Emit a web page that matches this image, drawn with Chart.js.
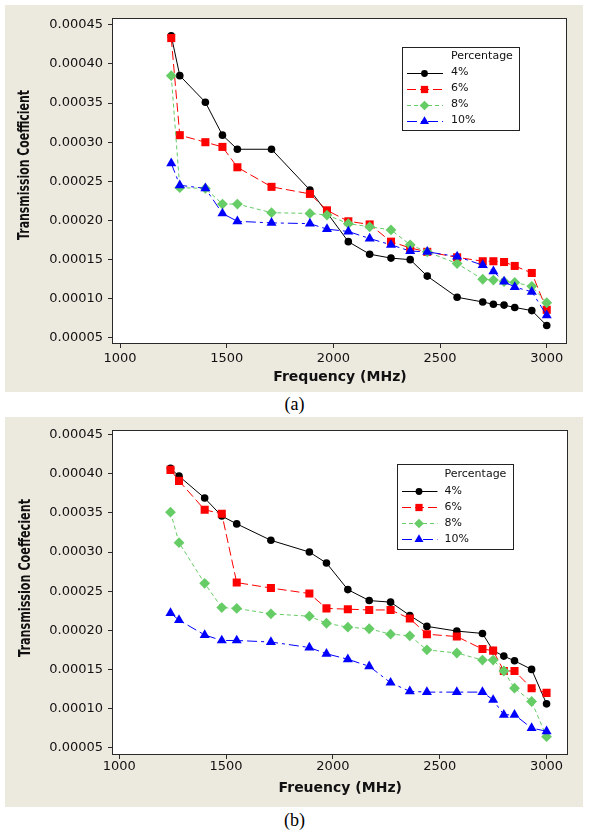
<!DOCTYPE html>
<html>
<head>
<meta charset="utf-8">
<title>Transmission Coefficient vs Frequency</title>
<script src="https://cdn.jsdelivr.net/npm/chart.js@4.4.1/dist/chart.umd.min.js"></script>
<style>
  html, body { margin: 0; padding: 0; background: #ffffff; }
  body { width: 589px; height: 837px; position: relative; overflow: hidden; }
  canvas { position: absolute; left: 5px; display: block; }
  #chartA { top: 5px; }
  #chartB { top: 417px; }
  .caption {
    position: absolute; left: 0; width: 589px; text-align: center;
    font-family: "Liberation Serif", "Times New Roman", serif;
    font-size: 18px; line-height: 20px; color: #000;
  }
</style>
</head>
<body>
<canvas id="chartA" width="578" height="387"></canvas>
<div class="caption" style="top:394px;">(a)</div>
<canvas id="chartB" width="578" height="390"></canvas>
<div class="caption" style="top:810px;">(b)</div>

<script>
// Measured frequencies (MHz), shared by every series
const frequencyMHz = [1240, 1280, 1400, 1480, 1550, 1710, 1890, 1970, 2070, 2170,
                      2270, 2360, 2440, 2580, 2700, 2750, 2800, 2850, 2930, 3000];

const seriesLabels = ['4%', '6%', '8%', '10%'];

const xTickValues = [1000, 1500, 2000, 2500, 3000];
const yTickValues = [0.00005, 0.00010, 0.00015, 0.00020, 0.00025,
                     0.00030, 0.00035, 0.00040, 0.00045];

// Panel (a)
const coefA4  = [0.000436, 0.000385, 0.000351, 0.000309, 0.000291, 0.000291, 0.000239, 0.000210, 0.000173, 0.000157,
                 0.000152, 0.000150, 0.000129, 0.000102, 0.000096, 0.000093, 0.000092, 0.000089, 0.000085, 0.000066];
const coefA6  = [0.000433, 0.000309, 0.000300, 0.000294, 0.000268, 0.000243, 0.000234, 0.000213, 0.000199, 0.000195,
                 0.000173, 0.000165, 0.000160, 0.000153, 0.000148, 0.000148, 0.000147, 0.000142, 0.000133, 0.000086];
const coefA8  = [0.000385, 0.000242, 0.000241, 0.000221, 0.000221, 0.000210, 0.000209, 0.000207, 0.000196, 0.000192,
                 0.000188, 0.000169, 0.000160, 0.000145, 0.000125, 0.000124, 0.000122, 0.000121, 0.000116, 0.000095];
const coefA10 = [0.000273, 0.000245, 0.000241, 0.000209, 0.000199, 0.000197, 0.000196, 0.000189, 0.000186, 0.000177,
                 0.000169, 0.000161, 0.000160, 0.000154, 0.000143, 0.000135, 0.000122, 0.000115, 0.000109, 0.000079];

// Panel (b)
const coefB4  = [0.000407, 0.000397, 0.000369, 0.000346, 0.000336, 0.000315, 0.000300, 0.000286, 0.000252, 0.000238,
                 0.000236, 0.000219, 0.000205, 0.000199, 0.000196, 0.000174, 0.000167, 0.000161, 0.000150, 0.000106];
const coefB6  = [0.000405, 0.000391, 0.000354, 0.000349, 0.000261, 0.000254, 0.000247, 0.000228, 0.000227, 0.000226,
                 0.000226, 0.000215, 0.000195, 0.000192, 0.000176, 0.000174, 0.000148, 0.000148, 0.000126, 0.000120];
const coefB8  = [0.000351, 0.000312, 0.000260, 0.000229, 0.000228, 0.000221, 0.000218, 0.000209, 0.000204, 0.000202,
                 0.000195, 0.000193, 0.000175, 0.000171, 0.000162, 0.000162, 0.000148, 0.000126, 0.000109, 0.000064];
const coefB10 = [0.000222, 0.000213, 0.000194, 0.000187, 0.000187, 0.000185, 0.000178, 0.000170, 0.000163, 0.000154,
                 0.000133, 0.000122, 0.000121, 0.000121, 0.000121, 0.000111, 0.000092, 0.000092, 0.000075, 0.000071];

// Line / marker look of each percentage
const seriesStyles = [
  { color: '#000000', marker: 'circle',   radius: 3.8, dash: [],            order: 4 },
  { color: '#ff0000', marker: 'rect',     radius: 5.7, dash: [9, 4],        order: 3 },
  { color: '#66cc66', marker: 'rectRot',  radius: 5.4, dash: [4, 3],        order: 2 },
  { color: '#0000ff', marker: 'triangle', radius: 5.8, dash: [10, 4, 3, 4], order: 1 }
];

const FONT = '"DejaVu Sans", Verdana, sans-serif';
const TEXT = '#111111';
const PANEL_BG = '#ece9df';

function makeDatasets(valueLists) {
  return valueLists.map((vals, i) => {
    const s = seriesStyles[i];
    return {
      label: seriesLabels[i],
      data: frequencyMHz.map((f, k) => ({ x: f, y: vals[k] })),
      borderColor: s.color,
      backgroundColor: s.color,
      pointBackgroundColor: s.color,
      pointBorderColor: s.color,
      pointBorderWidth: 0,
      borderWidth: 1,
      borderDash: s.dash,
      pointStyle: s.marker,
      pointRadius: s.radius,
      tension: 0,
      order: s.order
    };
  });
}

// Beige panel, white plot area and the frame round it
const plotFramePlugin = {
  id: 'plotFrame',
  beforeDraw(chart) {
    const { ctx, width, height, chartArea: a } = chart;
    ctx.save();
    ctx.fillStyle = PANEL_BG;
    ctx.fillRect(0, 0, width, height);
    ctx.fillStyle = '#ffffff';
    ctx.fillRect(a.left, a.top, a.right - a.left, a.bottom - a.top);
    ctx.restore();
  },
  afterDatasetsDraw(chart) {
    const { ctx, chartArea: a } = chart;
    ctx.save();
    ctx.strokeStyle = '#2a2a2a';
    ctx.lineWidth = 1;
    const l = Math.round(a.left) - 0.5, t = Math.round(a.top) + 0.5;
    const r = Math.round(a.right) - 0.5, b = Math.round(a.bottom) + 0.5;
    ctx.strokeRect(l, t, r - l, b - t);
    ctx.restore();
  }
};

// Rotated y-axis title
const sideTitlePlugin = {
  id: 'sideTitle',
  afterDraw(chart, args, o) {
    const ctx = chart.ctx;
    ctx.save();
    ctx.font = o.font;
    ctx.fillStyle = TEXT;
    ctx.translate(o.x, o.y);
    ctx.rotate(-Math.PI / 2);
    const w = ctx.measureText(o.text).width;
    ctx.scale(o.length / w, 1);
    ctx.textAlign = 'center';
    ctx.textBaseline = 'middle';
    ctx.fillText(o.text, 0, 0);
    ctx.restore();
  }
};

function markerAt(ctx, style, radius, x, y) {
  if (Chart.helpers && Chart.helpers.drawPoint) {
    Chart.helpers.drawPoint(ctx, { pointStyle: style, radius: radius, rotation: 0, borderWidth: 0 }, x, y);
    return;
  }
  ctx.beginPath();
  ctx.arc(x, y, radius, 0, Math.PI * 2);
  ctx.fill();
}

// Boxed legend with a heading, drawn from the datasets themselves
const boxLegendPlugin = {
  id: 'boxLegend',
  afterDatasetsDraw(chart, args, o) {
    const ctx = chart.ctx;
    ctx.save();
    ctx.fillStyle = '#ffffff';
    ctx.fillRect(o.left, o.top, o.width, o.height);
    ctx.strokeStyle = '#222222';
    ctx.lineWidth = 1;
    ctx.strokeRect(o.left + 0.5, o.top + 0.5, o.width, o.height);
    ctx.font = '11px ' + FONT;
    ctx.fillStyle = TEXT;
    ctx.textAlign = 'left';
    ctx.textBaseline = 'middle';
    ctx.fillText(o.title, o.textX, o.titleY);
    chart.data.datasets.forEach((ds, i) => {
      const y = o.firstY + i * o.rowGap;
      ctx.save();
      ctx.strokeStyle = ds.borderColor;
      ctx.lineWidth = ds.borderWidth;
      ctx.setLineDash(ds.borderDash || []);
      ctx.beginPath();
      ctx.moveTo(o.lineX0, Math.round(y) + 0.5);
      ctx.lineTo(o.lineX1, Math.round(y) + 0.5);
      ctx.stroke();
      ctx.setLineDash([]);
      ctx.fillStyle = ds.pointBackgroundColor;
      markerAt(ctx, ds.pointStyle, ds.pointRadius * 0.9, o.markerX, Math.round(y) + 0.5);
      ctx.restore();
      ctx.fillText(ds.label, o.textX, y);
    });
    ctx.restore();
  }
};

function buildChart(id, valueLists, cfg) {
  const ctx = document.getElementById(id).getContext('2d');
  return new Chart(ctx, {
    type: 'line',
    data: { datasets: makeDatasets(valueLists) },
    options: {
      responsive: false,
      animation: false,
      devicePixelRatio: 1,
      layout: { padding: { left: 0, top: cfg.padTop, right: cfg.padRight, bottom: 0 } },
      plugins: {
        legend: { display: false },
        tooltip: { enabled: false },
        sideTitle: cfg.yTitle,
        boxLegend: cfg.legend
      },
      scales: {
        x: {
          type: 'linear',
          min: cfg.xMin,
          max: cfg.xMax,
          afterBuildTicks: s => { s.ticks = xTickValues.map(v => ({ value: v })); },
          afterFit: s => { s.height = cfg.xAxisHeight; },
          border: { display: false },
          grid: { display: true, drawOnChartArea: false, drawTicks: true, tickLength: 5, color: '#2a2a2a', lineWidth: 1 },
          ticks: { autoSkip: false, maxRotation: 0, padding: cfg.xTickPad, color: TEXT,
                   font: { family: FONT, size: 13 }, callback: v => String(v) },
          title: { display: true, text: cfg.xTitle, color: TEXT,
                   font: { family: FONT, size: 14, weight: 'bold' },
                   padding: { top: 0, bottom: cfg.xTitlePad } }
        },
        y: {
          type: 'linear',
          min: cfg.yMin,
          max: cfg.yMax,
          afterBuildTicks: s => { s.ticks = yTickValues.map(v => ({ value: v })); },
          afterFit: s => { s.width = 108; },
          border: { display: false },
          grid: { display: true, drawOnChartArea: false, drawTicks: true, tickLength: 5, color: '#2a2a2a', lineWidth: 1 },
          ticks: { autoSkip: false, padding: 5, color: TEXT,
                   font: { family: FONT, size: 13 }, callback: v => Number(v).toFixed(5) }
        }
      }
    },
    plugins: [plotFramePlugin, sideTitlePlugin, boxLegendPlugin]
  });
}

buildChart('chartA', [coefA4, coefA6, coefA8, coefA10], {
  padTop: 13, padRight: 16, xAxisHeight: 49,
  xMin: 967, xMax: 3095, yMin: 0.0000436, yMax: 0.0004586,
  xTickPad: 3, xTitlePad: 6.4,
  xTitle: 'Frequency (MHz)',
  yTitle: { text: 'Transmission Coefficient', font: 'bold 15px ' + FONT, x: 20, y: 160, length: 150 },
  legend: { left: 397, top: 42, width: 117, height: 83, title: 'Percentage',
            titleY: 51, firstY: 67.5, rowGap: 16, lineX0: 402, lineX1: 438, markerX: 419.5, textX: 446 }
});

buildChart('chartB', [coefB4, coefB6, coefB8, coefB10], {
  padTop: 13, padRight: 15.5, xAxisHeight: 53,
  xMin: 971, xMax: 3098, yMin: 0.0000419, yMax: 0.000456,
  xTickPad: 0, xTitlePad: 10.3,
  xTitle: 'Freuency (MHz)',
  yTitle: { text: 'Transmission Coeffecient', font: 'bold 15px ' + FONT, x: 21, y: 161, length: 158 },
  legend: { left: 392, top: 47, width: 116, height: 85, title: 'Percentage',
            titleY: 57.5, firstY: 74, rowGap: 16, lineX0: 397, lineX1: 432.5, markerX: 414, textX: 439.5 }
});
</script>
</body>
</html>
